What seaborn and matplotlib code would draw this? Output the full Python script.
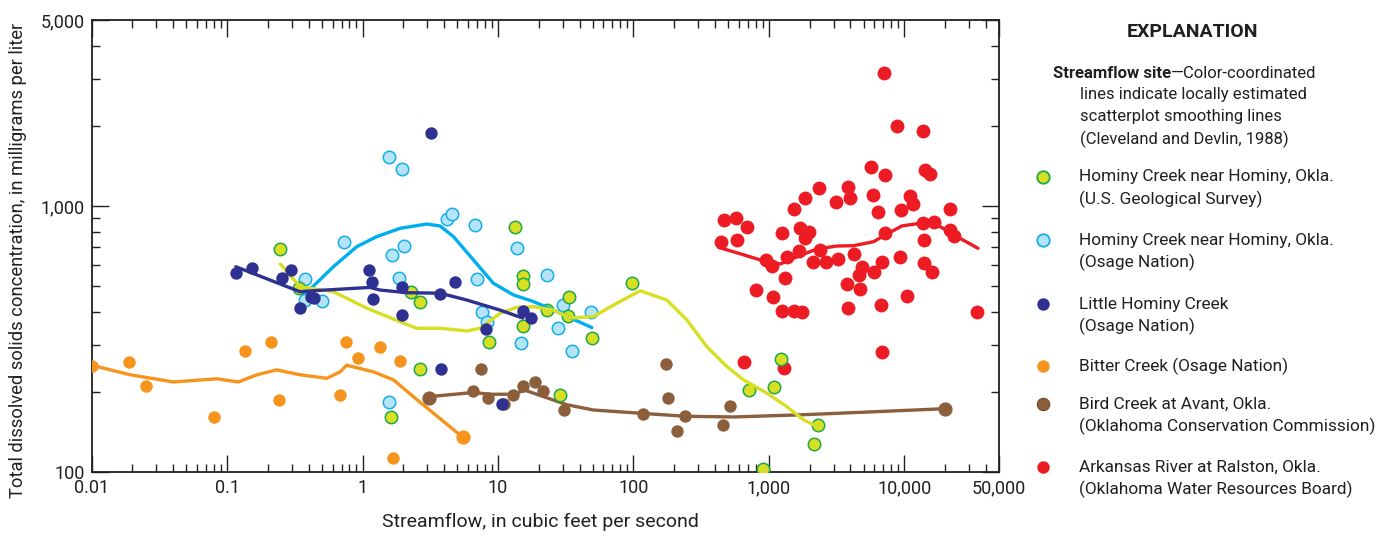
import numpy as np
import pandas as pd
import matplotlib
matplotlib.use("Agg")
import matplotlib.pyplot as plt
from matplotlib import font_manager
from matplotlib.ticker import FixedLocator, NullFormatter
import seaborn as sns

# ---------------- data ----------------
# Hominy Creek near Hominy, Okla. (U.S. Geological Survey)
usgs_q = [0.247, 0.341, 2.28, 2.66, 13.4, 15.2, 15.2, 15.2, 8.6, 22.9, 33.5, 32.6,
          98.3, 49.8, 2.66, 28.75, 1.615, 711, 1089, 1238, 2301, 2148, 908]
usgs_tds = [687, 493, 474, 434, 836, 547, 510, 355, 307, 406, 456, 386,
            515, 320, 244, 195, 161, 203, 209, 267, 150, 127, 103]
usgs_fit_q = [0.247, 0.3455, 0.609, 1.074, 1.892, 2.51, 3.736, 5.88, 7.38, 10.36, 13.8,
              18.3, 25.6, 34.4, 50.7, 75.4, 112, 176.5, 248, 348, 490, 649, 966,
              1358, 1802, 2301]
usgs_fit_tds = [605, 497, 476, 413, 367, 347, 347, 339, 347, 395, 416,
                418, 406, 379, 384, 431, 480, 443, 373, 296, 249, 222, 198,
                176, 157, 148]

# Hominy Creek near Hominy, Okla. (Osage Nation)
hom_q = [1.57, 1.94, 0.734, 1.66, 2.03, 0.376, 0.378, 0.50, 1.85, 4.23, 4.61, 6.74,
         7.01, 7.67, 8.27, 13.8, 23.05, 30.4, 27.7, 49.0, 14.8, 35.1, 1.57]
hom_tds = [1531, 1381, 730, 656, 709, 532, 442, 438, 538, 893, 935, 848,
           532, 398, 367, 693, 552, 425, 349, 400, 305, 284, 184]
hom_fit_q = [0.3825, 0.609, 0.906, 1.273, 1.892, 2.98, 3.736, 4.686, 6.58, 9.25,
             13.0, 18.3, 25.6, 49.3]
hom_fit_tds = [470, 591, 703, 767, 824, 855, 841, 767, 627, 512, 463, 437, 406, 349]

# Little Hominy Creek (Osage Nation)
lh_q = [0.116, 0.152, 0.256, 0.297, 0.347, 0.417, 0.441, 1.11, 1.18, 1.20, 1.95, 1.95,
        3.21, 3.78, 3.74, 4.82, 8.13, 10.67, 15.2, 17.6]
lh_tds = [558, 583, 538, 574, 415, 456, 450, 574, 516, 446, 494, 390,
          1886, 243, 467, 516, 344, 180, 404, 380]
lh_fit_q = [0.116, 0.3455, 0.433, 0.855, 1.136, 1.346, 2.12, 3.736, 5.88, 10.36, 15.2]
lh_fit_tds = [591, 476, 480, 490, 494, 483, 472, 470, 443, 406, 379]

# Bitter Creek (Osage Nation)
bit_q = [0.01, 0.019, 0.025, 0.080, 0.135, 0.21, 0.24, 0.68, 0.76, 0.93, 1.35, 1.88, 1.69]
bit_tds = [250, 258, 211, 161, 284, 307, 187, 194, 309, 269, 296, 262, 113]
bit_end_q = [5.5]
bit_end_tds = [135]
bit_fit_q = [0.01, 0.0192, 0.040, 0.084, 0.121, 0.166, 0.232, 0.345, 0.544, 0.683,
             0.764, 1.20, 1.69, 2.37, 5.5]
bit_fit_tds = [252, 232, 218, 224, 218, 232, 242, 232, 225, 238, 252, 238, 222, 192, 135]

# Bird Creek at Avant, Okla. (Oklahoma Conservation Commission)
bird_q = [7.50, 6.58, 8.49, 11.1, 13.0, 15.2, 18.6, 21.4, 30.9, 118.6,
          174.5, 179.5, 241, 211, 518, 457]
bird_tds = [244, 202, 189, 180, 195, 211, 218, 202, 171, 165,
            254, 190, 163, 143, 177, 150]
bird_end_q = [3.10, 20050]
bird_end_tds = [189, 173]
bird_fit_q = [3.10, 6.58, 8.75, 13.0, 15.8, 21.7, 32.2, 50.7, 118.6, 241, 548,
              1702, 5300, 20050]
bird_fit_tds = [192, 199, 196, 196, 203, 192, 179, 171, 166, 162, 161, 164, 168, 173]

# Arkansas River at Ralston, Okla. (Oklahoma Water Resources Board)
ark_q = [7020, 8810, 13710, 5666, 7230, 14090, 15530, 2355, 3810, 1833, 3937, 3141,
         5862, 11070, 11510, 1538, 6410, 9480, 21580, 470, 573, 692, 440, 583,
         1248, 1702, 1985, 1855, 7190, 13620, 16640, 21830, 23090, 14030, 2393, 1656,
         1358, 950, 1052, 2099, 2636, 3252, 4220, 6840, 9230, 14030, 16000, 4866,
         4592, 5998, 1318, 3767, 4667, 806, 1081, 10450, 1248, 1538, 1770, 3810,
         6670, 34350, 6840, 658, 1282]
ark_tds = [3170, 2000, 1914, 1398, 1308, 1365, 1315, 1165, 1182, 1069, 1074, 1032,
           1097, 1091, 1015, 972, 946, 966, 972, 885, 899, 832, 734, 745,
           794, 824, 800, 756, 789, 861, 873, 813, 773, 745, 683, 679,
           644, 627, 594, 614, 617, 630, 658, 614, 641, 609, 566, 588,
           550, 564, 535, 509, 488, 483, 456, 460, 404, 404, 400, 413,
           425, 400, 283, 260, 247]
ark_fit_q = [425, 596, 863, 1212, 1611, 2262, 3177, 4220, 5926, 7230, 9590, 13090,
             18400, 24430, 35000]
ark_fit_tds = [699, 664, 627, 605, 644, 689, 707, 709, 734, 778, 841, 861,
               836, 767, 693]

x_ticks = [0.01, 0.1, 1, 10, 100, 1000, 10000, 50000]
x_tick_labels = ["0.01", "0.1", "1", "10", "100", "1,000", "10,000", "50,000"]
y_ticks = [100, 1000, 5000]
y_tick_labels = ["100", "1,000", "5,000"]

legend_labels = [
    ["Hominy Creek near Hominy, Okla.", "(U.S. Geological Survey)"],
    ["Hominy Creek near Hominy, Okla.", "(Osage Nation)"],
    ["Little Hominy Creek", "(Osage Nation)"],
    ["Bitter Creek (Osage Nation)"],
    ["Bird Creek at Avant, Okla.", "(Oklahoma Conservation Commission)"],
    ["Arkansas River at Ralston, Okla.", "(Oklahoma Water Resources Board)"],
]

# ---------------- styling ----------------
sns.set_style("ticks")
available = {f.name for f in font_manager.fontManager.ttflist}
main_font = "Liberation Sans Narrow" if "Liberation Sans Narrow" in available else "Roboto"
plt.rcParams["font.family"] = [main_font, "DejaVu Sans"]
plt.rcParams["text.color"] = "#231f20"

YG_FILL, YG_EDGE, YG_LINE = "#d7df23", "#1fa84a", "#d7df23"
LB_FILL, LB_EDGE, LB_LINE = "#b5e4f8", "#14aee8", "#00aeef"
DB = "#2e3192"
OR = "#f7941d"
BR = "#8b5e3c"
RD = "#ed1c24"

W, H = 1391, 536
fig = plt.figure(figsize=(W / 100, H / 100), dpi=100)
x0, x1 = 91.7, 999.0
y_top, y_bot = 20.0, 472.0
ax = fig.add_axes([x0 / W, 1 - y_bot / H, (x1 - x0) / W, (y_bot - y_top) / H])
ax.set_xscale("log")
ax.set_yscale("log")

MS = 80
LW = 2.4

def scatter(q, tds, fill, edge=None, s=MS, lw=0.0, z=3):
    df = pd.DataFrame({"q": q, "tds": tds})
    sns.scatterplot(data=df, x="q", y="tds", ax=ax, s=s, color=fill,
                    edgecolor=edge if edge else fill, linewidth=lw, zorder=z,
                    legend=False)

def curve(q, tds, color, z=4):
    df = pd.DataFrame({"q": q, "tds": tds})
    sns.lineplot(data=df, x="q", y="tds", ax=ax, color=color, lw=LW, sort=False,
                 estimator=None, zorder=z, legend=False,
                 solid_joinstyle="round", solid_capstyle="round")

# Arkansas River
scatter(ark_q, ark_tds, RD, s=100, z=3)
curve(ark_fit_q, ark_fit_tds, RD, z=4)
# Bird Creek
curve(bird_fit_q, bird_fit_tds, BR, z=3)
scatter(bird_q, bird_tds, BR, z=4)
scatter(bird_end_q, bird_end_tds, BR, s=105, z=4)
# Bitter Creek
curve(bit_fit_q, bit_fit_tds, OR, z=3)
scatter(bit_q, bit_tds, OR, z=4)
scatter(bit_end_q, bit_end_tds, OR, s=105, z=4)
# Hominy Creek (Osage Nation)
scatter(hom_q, hom_tds, LB_FILL, LB_EDGE, lw=1.1, z=5)
# Hominy Creek (USGS)
scatter(usgs_q, usgs_tds, YG_FILL, YG_EDGE, lw=1.1, z=6)
curve(hom_fit_q, hom_fit_tds, LB_LINE, z=7)
curve(usgs_fit_q, usgs_fit_tds, YG_LINE, z=7)
# Little Hominy Creek
curve(lh_fit_q, lh_fit_tds, DB, z=8)
scatter(lh_q, lh_tds, DB, z=9)

ax.set_xlim(0.01, 50000)
ax.set_ylim(100, 5000)

# ticks on all four sides, pointing inward
x_minor = [m * 10.0 ** e for e in range(-2, 4) for m in range(2, 10)] + [20000, 30000, 40000]
y_minor = [200, 300, 400, 500, 600, 700, 800, 900, 2000, 3000, 4000]
ax.xaxis.set_major_locator(FixedLocator(x_ticks))
ax.xaxis.set_minor_locator(FixedLocator(x_minor))
ax.yaxis.set_major_locator(FixedLocator(y_ticks))
ax.yaxis.set_minor_locator(FixedLocator(y_minor))
ax.set_xticklabels(x_tick_labels)
ax.set_yticklabels(y_tick_labels)
ax.xaxis.set_minor_formatter(NullFormatter())
ax.yaxis.set_minor_formatter(NullFormatter())
ax.tick_params(which="both", direction="in", top=True, right=True, color="#231f20",
               width=1.0, labelsize=13, labelcolor="#231f20")
ax.tick_params(which="major", length=12, pad=5)
ax.tick_params(which="minor", length=6)
for sp in ax.spines.values():
    sp.set_visible(True)
    sp.set_linewidth(1.3)
    sp.set_color("#231f20")
ax.set_xlabel("")
ax.set_ylabel("")

fig.text(540 / W, 1 - 522 / H, "Streamflow, in cubic feet per second",
         ha="center", va="center", fontsize=14)
fig.text(18 / W, 1 - 260 / H,
         "Total dissolved solids concentration, in milligrams per liter",
         ha="center", va="center", rotation=90, fontsize=13.2)

# ---------------- explanation panel ----------------
lax = fig.add_axes([0, 0, 1, 1])
lax.set_xlim(0, W)
lax.set_ylim(H, 0)
lax.axis("off")
lax.patch.set_alpha(0)

lax.text(1193, 32, "EXPLANATION", ha="center", va="center", fontsize=14,
         fontweight="bold")
head = lax.text(1053, 73, "Streamflow site", ha="left", va="center", fontsize=12,
                fontweight="bold")
fig.canvas.draw()
bb = head.get_window_extent(renderer=fig.canvas.get_renderer())
lax.text(1053 + bb.width, 73, "\u2014Color-coordinated", ha="left", va="center",
         fontsize=12)
for i, line in enumerate(["lines indicate locally estimated",
                          "scatterplot smoothing lines",
                          "(Cleveland and Devlin, 1988)"]):
    lax.text(1080, 95 + 22 * i, line, ha="left", va="center", fontsize=12)

entry_y = [177, 240, 304, 366, 404, 467]
entry_style = [(YG_FILL, YG_EDGE, 1.3), (LB_FILL, LB_EDGE, 1.3), (DB, DB, 0),
               (OR, OR, 0), (BR, "#6d4a2d", 0.8), (RD, RD, 0)]
for yy, labels, (fc, ec, lw) in zip(entry_y, legend_labels, entry_style):
    lax.scatter([1043.3], [yy], s=MS, color=fc, edgecolor=ec, linewidth=lw)
    for j, t in enumerate(labels):
        lax.text(1079, yy + 22.5 * j, t, ha="left", va="center", fontsize=12.4)

fig.savefig("out.png", dpi=100)
